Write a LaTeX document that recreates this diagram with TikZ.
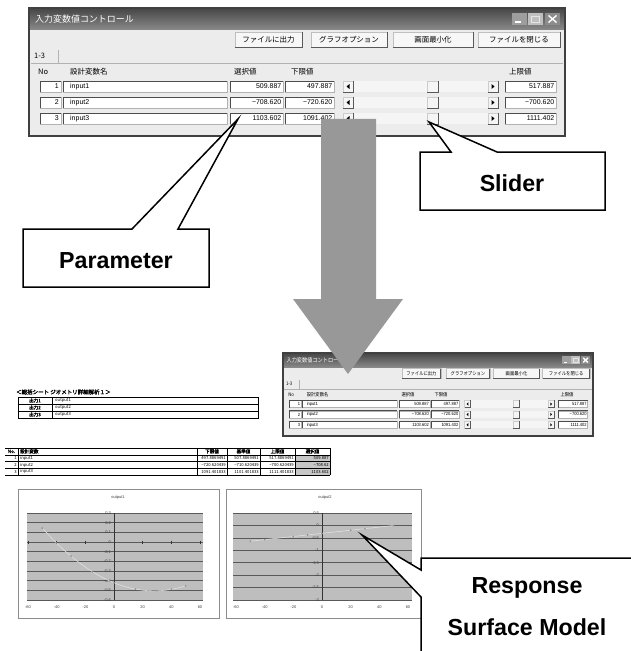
\documentclass[tikz,border=0pt]{standalone}
\usepackage{fontspec}
\setmainfont{Liberation Sans}
\newfontfamily\jpfont{Noto Sans CJK JP}
\newfontfamily\jpbold[FakeBold=2]{Noto Sans CJK JP}
\newfontfamily\uifont{Liberation Sans}

\definecolor{winbody}{HTML}{ECECEC}
\definecolor{tbtop}{HTML}{464646}
\definecolor{tbbot}{HTML}{8A8A8A}
\definecolor{plotbg}{HTML}{BEBEBE}
\definecolor{arrowgray}{HTML}{989898}

\tikzset{
  winframe/.style={draw=black!75, line width=1.6bp},
  wintitle/.style={text=white, inner sep=0pt, font=\jpfont\fontsize{9}{10}\selectfont},
  capbtn/.style={fill=black!38},
  capbtnoff/.style={fill=black!25},
  capbtnx/.style={fill=black!45},
  btnface/.style={fill=black!3, draw=black!25, line width=0.5bp},
  btnedge/.style={draw=black!65, line width=0.9bp},
  btntext/.style={inner sep=0pt, font=\jpfont\fontsize{7.5}{8}\selectfont},
  hdrtext/.style={inner sep=0pt, font=\jpfont\fontsize{7.5}{8}\selectfont},
  celltext/.style={inner sep=0pt, font=\uifont\fontsize{7}{8}\selectfont},
  boxface/.style={fill=white, draw=black!30, line width=0.5bp},
  boxdark/.style={draw=black!70, line width=0.8bp},
  raisedface/.style={fill=black!4, draw=black!20, line width=0.5bp},
  raisededge/.style={draw=black!65, line width=0.8bp},
  trackface/.style={fill=black!4},
  tabline/.style={draw=black!30, line width=0.6bp},
  tabrule/.style={draw=black, line width=0.5bp},
  tabtitle/.style={inner sep=0pt, font=\jpbold\fontsize{5.5}{6}\selectfont},
  tabcell/.style={inner sep=0pt, font=\jpfont\fontsize{4.2}{5}\selectfont},
  tabhead/.style={inner sep=0pt, font=\jpbold\fontsize{4.6}{5}\selectfont},
  chartframe/.style={fill=white, draw=black!45, line width=0.7bp},
  plotgrid/.style={draw=black!65, line width=0.5bp},
  plotaxis/.style={draw=black!80, line width=0.7bp},
  charttext/.style={inner sep=0pt, text=black!75, font=\uifont\fontsize{4}{5}\selectfont},
  datacurve/.style={draw=black!12, line width=0.6bp},
  datamark/.style={fill=black!45},
  calloutshape/.style={draw=black, fill=white, line width=1.5bp, line join=miter},
  callouttext/.style={inner sep=0pt, font=\uifont\fontsize{23.3}{28}\selectfont\bfseries},
  bigarrow/.style={fill=arrowgray}
}

% a sunken edit box spanning the current row
\newcommand{\sunkbox}[2]{%
  \filldraw[boxface] (#1,\rowy) rectangle (#2,\rowb);
  \draw[boxdark] (#1,\rowb) -- (#1,\rowy) -- (#2,\rowy);}
% a raised button spanning the current row
\newcommand{\raisedbox}[2]{%
  \filldraw[raisedface] (#1,\rowy) rectangle (#2,\rowb);
  \draw[raisededge] (#2,\rowy) -- (#2,\rowb) -- (#1,\rowb);}

% the input-variable control window, drawn in its own pixel frame
\newcommand{\ctrlwin}[1]{%
  \fill[winbody] (0,0) rectangle (536,128);
  \shade[top color=tbtop, bottom color=tbbot] (0,0) rectangle (536,22);
  \draw[winframe] (0,0) rectangle (536,128);
  \node[wintitle, anchor=west] (#1-title) at (6,11) {入力変数値コントロール};
  % caption buttons
  \fill[capbtn] (483,5) rectangle (498,17);
  \draw[white, line width=1.2bp] (486,14) -- (492,14);
  \fill[capbtnoff] (499,5) rectangle (514,17);
  \draw[white!80!gray, line width=0.8bp] (502.5,8) rectangle (510.5,14.5);
  \fill[capbtnx] (516,5) rectangle (531,17);
  \draw[white, line width=1.4bp] (519.5,7.5) -- (527.5,14.5) (519.5,14.5) -- (527.5,7.5);
  % toolbar buttons
  \foreach \xa/\xb/\lbl [count=\i] in {206/273/ファイルに出力, 282/358/グラフオプション, 364/444/画面最小化, 449/531/ファイルを閉じる}{
    \draw[btnface] (\xa,24) rectangle (\xb,39);
    \draw[btnedge] (\xb,24) -- (\xb,39) -- (\xa,39);
    \node[btntext] (#1-btn\i) at ({(\xa+\xb)/2},31.5) {\lbl};
  }
  % tab
  \node[hdrtext, anchor=west] (#1-tab) at (5,48) {1-3};
  \draw[tabline] (29,42) -- (29,55);
  \draw[tabline] (2,55.5) -- (534,55.5);
  % column headers
  \node[hdrtext, anchor=west] (#1-hno) at (9,64) {No};
  \node[hdrtext, anchor=west] (#1-hname) at (41,64) {設計変数名};
  \node[hdrtext, anchor=west] (#1-hsel) at (205,64) {選択値};
  \node[hdrtext, anchor=west] (#1-hlo) at (262,64) {下限値};
  \node[hdrtext, anchor=west] (#1-hhi) at (480,64) {上限値};
  % variable rows
  \foreach \r/\nm/\sv/\lv/\hv in {1/input1/509.887/497.887/517.887,
      2/input2/−708.620/−720.620/−700.620,
      3/input3/1103.602/1091.402/1111.402}{
    \pgfmathsetmacro{\rowy}{73+(\r-1)*16}
    \pgfmathsetmacro{\rowb}{\rowy+11}
    \pgfmathsetmacro{\rowc}{\rowy+5.5}
    \sunkbox{11}{32}
    \sunkbox{34}{198}
    \sunkbox{201}{254}
    \sunkbox{256}{305}
    \sunkbox{476}{527}
    \fill[trackface] (324,\rowy) rectangle (459,\rowb);
    \raisedbox{314}{324}
    \raisedbox{459}{469}
    \raisedbox{398}{409}
    \fill (317.5,\rowc) -- (320.5,\rowc-2.5) -- (320.5,\rowc+2.5) -- cycle;
    \fill (465.5,\rowc) -- (462.5,\rowc-2.5) -- (462.5,\rowc+2.5) -- cycle;
    \node[celltext, anchor=east] (#1-no\r) at (30,\rowc) {\r};
    \node[celltext, anchor=west] (#1-nm\r) at (41,\rowc) {\nm};
    \node[celltext, anchor=east] (#1-sv\r) at (252.5,\rowc) {\sv};
    \node[celltext, anchor=east] (#1-lv\r) at (303.5,\rowc) {\lv};
    \node[celltext, anchor=east] (#1-hv\r) at (525.5,\rowc) {\hv};
  }
}

\begin{document}
\begin{tikzpicture}[x=1bp, y=-1bp]
\useasboundingbox (0,0) rectangle (631,651);
\clip (0,0) rectangle (631,651);
\fill[white] (0,0) rectangle (631,651);

% ---- main control window ----
\begin{scope}[shift={(29,8)}]
  \ctrlwin{m}
\end{scope}

% ---- reduced copy of the window ----
\begin{scope}[shift={(283,353)}, xscale=0.578, yscale=0.65, transform shape]
  \ctrlwin{s}
\end{scope}

% ---- summary sheet ----
\node[tabtitle, anchor=west] (t1title) at (16,392) {＜総括シート ジオメトリ詳細解析１＞};
\draw[tabrule] (18,397) rectangle (258,418);
\draw[tabrule] (18,404) -- (258,404) (18,411) -- (258,411) (52,397) -- (52,418);
\foreach \k in {1,2,3}{
  \node[tabhead] (t1a\k) at (35,{397+(\k-0.5)*7}) {出力\k};
  \node[tabcell, anchor=west] (t1b\k) at (55,{397+(\k-0.5)*7}) {output\k};
}

% ---- design variable table ----
\fill[black!22] (295,454.75) rectangle (330,475);
\foreach \yy in {448,454.75,461.5,468.25,475}{ \draw[tabrule] (5,\yy) -- (330,\yy); }
\foreach \xx in {18,197,227,260,295,330}{ \draw[tabrule] (\xx,448) -- (\xx,475); }
\node[tabhead] (t2h0) at (11.5,451.4) {No.};
\node[tabhead, anchor=west] (t2h1) at (20,451.4) {設計変数};
\node[tabhead] (t2h2) at (212,451.4) {下限値};
\node[tabhead] (t2h3) at (243.5,451.4) {基準値};
\node[tabhead] (t2h4) at (277.5,451.4) {上限値};
\node[tabhead] (t2h5) at (312.5,451.4) {選択値};
\foreach \r/\nm/\va/\vb/\vc/\vd in {1/input1/497.8869491/507.8869491/517.8869491/509.887,
    2/input2/−720.620439/−710.620439/−700.620439/−708.62,
    3/input3/1091.401833/1101.401833/1111.401833/1103.602}{
  \pgfmathsetmacro{\cy}{454.75+(\r-0.5)*6.75}
  \node[tabcell, anchor=east] (t2n\r) at (17,\cy) {\r};
  \node[tabcell, anchor=west] (t2m\r) at (20,\cy) {\nm};
  \node[tabcell, anchor=east] (t2a\r) at (226,\cy) {\va};
  \node[tabcell, anchor=east] (t2b\r) at (259,\cy) {\vb};
  \node[tabcell, anchor=east] (t2c\r) at (294,\cy) {\vc};
  \node[tabcell, anchor=east] (t2d\r) at (329,\cy) {\vd};
}

% ---- chart: output1 ----
\draw[chartframe] (18,489) rectangle (219,618);
\node[charttext] (c1title) at (118,498) {output1};
\fill[plotbg] (27,513) rectangle (203,600);
\foreach \k/\lab in {0/0.3,1/0.2,2/0.1,3/0,4/-0.1,5/-0.2,6/-0.3,7/-0.4,8/-0.5,9/-0.6}{
  \draw[plotgrid] (27,{513+\k*9.667}) -- (203,{513+\k*9.667});
  \node[charttext, anchor=east] (c1y\k) at (111,{513+\k*9.667}) {\lab};
}
\draw[plotaxis] (114,513) -- (114,600);
\foreach \v in {-60,-40,-20,20,40,60}{ \draw[plotaxis] ({114+\v*1.433},540.5) -- ({114+\v*1.433},543.5); }
\foreach \v [count=\i] in {-60,-40,-20,0,20,40,60}{
  \node[charttext] (c1x\i) at ({114+\v*1.433},607.5) {\v};
}
\draw[datacurve] plot[domain=-50:50, samples=50, smooth]
  ({114+\x*1.433},{542-96.7*(0.0001077*(\x-28)*(\x-28)-0.505)});
\foreach \v in {-50,-30,-15,0,15,30,40,50}{
  \fill[datamark] ({114+\v*1.433},{542-96.7*(0.0001077*(\v-28)*(\v-28)-0.505)}) circle (0.9);
}

% ---- chart: output2 ----
\draw[chartframe] (226,489) rectangle (421,618);
\node[charttext] (c2title) at (325,498) {output2};
\fill[plotbg] (233,513) rectangle (412,600);
\foreach \k/\lab in {0/0.5,1/0,2/-0.5,3/-1,4/-1.5,5/-2,6/-2.5,7/-3}{
  \draw[plotgrid] (233,{513+\k*12.43}) -- (412,{513+\k*12.43});
  \node[charttext, anchor=east] (c2y\k) at (319,{513+\k*12.43}) {\lab};
}
\draw[plotaxis] (322,513) -- (322,600);
\foreach \v [count=\i] in {-60,-40,-20,0,20,40,60}{
  \node[charttext] (c2x\i) at ({322+\v*1.433},607.5) {\v};
}
\draw[datacurve] plot[domain=-50:50, samples=50, smooth]
  ({322+\x*1.433},{525.4-24.86*(-0.32+0.0063*\x+0.0000036*\x*\x)});
\foreach \v in {-50,-40,-20,-10,0,20,30,50}{
  \fill[datamark] ({322+\v*1.433},{525.4-24.86*(-0.32+0.0063*\v+0.0000036*\v*\v)}) circle (0.9);
}

% ---- big downward arrow ----
\fill[bigarrow] (321,119) -- (376,119) -- (376,299) -- (403,299) -- (348,374)
  -- (293,299) -- (321,299) -- cycle;

% ---- callouts ----
\coordinate (paramTip) at (238,119);
\coordinate (sliderTip) at (429,122);
\coordinate (rsmTip) at (362,535);

\draw[calloutshape] (23,229) -- (132,229) -- (paramTip) -- (178,229) -- (209,229)
  -- (209,287) -- (23,287) -- cycle;
\node[callouttext] (paramLabel) at (116,261) {Parameter};

\draw[calloutshape] (420,152) -- (451,152) -- (sliderTip) -- (497,152) -- (605,152)
  -- (605,210) -- (420,210) -- cycle;
\node[callouttext] (sliderLabel) at (512,183) {Slider};

\draw[calloutshape] (421,660) -- (421,597) -- (rsmTip) -- (421,570) -- (421,558)
  -- (640,558) -- (640,660) -- cycle;
\node[callouttext] (rsmLabel1) at (527,588) {Response};
\node[callouttext] (rsmLabel2) at (527,627) {Surface Model};
\end{tikzpicture}
\end{document}
